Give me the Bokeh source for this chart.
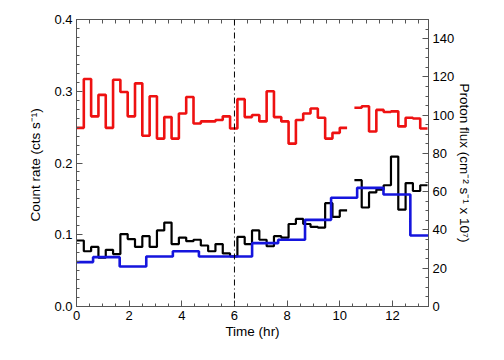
import math
from bokeh.plotting import figure
from bokeh.models import (Range1d, LinearAxis, FixedTicker, PrintfTickFormatter, Span)
from bokeh.embed import file_html
from bokeh.resources import INLINE

nan = float("nan")

# ---- data ----
bin_width_hr = 1000.0 / 3600.0  # 1000 s bins
count_rate_red = [0.249, 0.317, 0.265, 0.295, 0.249, 0.316, 0.299, 0.265, 0.311, 0.238,
                  0.293, 0.234, 0.264, 0.234, 0.269, 0.292, 0.255, 0.258, 0.258, 0.260,
                  0.265, 0.248, 0.289, 0.264, 0.267, 0.258, 0.300, 0.264, 0.258, 0.227,
                  0.260, 0.269, 0.276, 0.263, 0.234, 0.242, 0.249, nan, 0.277, 0.279,
                  0.244, 0.274, 0.271, 0.272, 0.251, 0.263, 0.262, 0.248]
count_rate_black = [0.092, 0.077, 0.083, 0.068, 0.079, 0.073, 0.101, 0.094, 0.083, 0.098,
                    0.083, 0.106, 0.117, 0.087, 0.096, 0.091, 0.093, 0.085, 0.077, 0.087,
                    0.074, 0.070, 0.097, 0.087, 0.106, 0.093, 0.084, 0.098, 0.096, 0.115,
                    0.122, 0.115, 0.111, 0.110, 0.144, 0.125, 0.134, nan, 0.176, 0.138,
                    0.159, 0.163, 0.169, 0.209, 0.135, 0.172, 0.161, 0.169]
flux_edges = [0.0, 0.63, 1.64, 2.65, 3.66, 4.65, 5.66, 6.67, 7.66, 8.68, 9.67, 10.66,
              11.66, 12.68, 13.37]
proton_flux = [23.2, 25.8, 20.9, 26.1, 28.9, 26.1, 26.1, 33.1, 34.9, 45.3, 56.8, 62.0,
               58.5, 37.1]
event_time = 6.0

x_ticks = [0, 2, 4, 6, 8, 10, 12]
y_ticks = [0.0, 0.1, 0.2, 0.3, 0.4]
flux_ticks = [0, 20, 40, 60, 80, 100, 120, 140]

x_end = 13.37
y_max = 0.4
flux_max = 150


def stairs(edges, vals):
    xs, ys = [], []
    for i, v in enumerate(vals):
        if isinstance(v, float) and math.isnan(v):
            xs.append(nan)
            ys.append(nan)
            continue
        xs += [edges[i], edges[i + 1]]
        ys += [v, v]
    return xs, ys


count_edges = [i * bin_width_hr for i in range(len(count_rate_red) + 1)]

FONT = "Liberation Sans"
AX = "#555555"

p = figure(frame_width=352, frame_height=287, output_backend="svg", toolbar_location=None,
           x_range=Range1d(0, x_end), y_range=Range1d(0, y_max),
           min_border_left=76, min_border_right=68, min_border_top=19, min_border_bottom=46,
           background_fill_color="white", border_fill_color="white")
p.grid.visible = False
p.outline_line_color = AX
p.extra_y_ranges = {"flux": Range1d(0, flux_max)}

xr, yr = stairs(count_edges, count_rate_red)
p.line(xr, yr, line_color="#ee1111", line_width=2.6)
xb, yb = stairs(count_edges, count_rate_black)
p.line(xb, yb, line_color="black", line_width=2.2)
xf, yf = stairs(flux_edges, proton_flux)
p.line(xf, yf, line_color="#1515dd", line_width=2.6, y_range_name="flux")

p.add_layout(Span(location=event_time, dimension="height", line_color="black",
                  line_width=1, line_dash="6 3 1 3"))


def style(ax):
    ax.axis_line_color = AX
    ax.major_tick_line_color = AX
    ax.minor_tick_line_color = AX
    ax.major_tick_in = 6
    ax.major_tick_out = 0
    ax.minor_tick_in = 3
    ax.minor_tick_out = 0
    ax.major_label_text_font = FONT
    ax.major_label_text_font_size = "13px"
    ax.major_label_text_color = "black"
    ax.axis_label_text_font = FONT
    ax.axis_label_text_font_size = "13.5px"
    ax.axis_label_text_font_style = "normal"
    ax.axis_label_text_color = "black"


x_minor = [i * 0.5 for i in range(27)]

# bottom x axis
xa = p.xaxis[0]
xa.ticker = FixedTicker(ticks=x_ticks, minor_ticks=x_minor)
style(xa)
xa.axis_label = "Time (hr)"
xa.major_label_standoff = 4
xa.axis_label_standoff = 1

# left y axis
ya = p.yaxis[0]
ya.ticker = FixedTicker(ticks=y_ticks, minor_ticks=[i * 0.0125 for i in range(33)])
ya.formatter = PrintfTickFormatter(format="%.1f")
style(ya)
ya.axis_label = "Count rate (cts  s\u207b\u00b9)"
ya.major_label_standoff = 4
ya.axis_label_standoff = 8

# right flux axis
ra = LinearAxis(y_range_name="flux")
ra.ticker = FixedTicker(ticks=flux_ticks, minor_ticks=[i * 5 for i in range(31)])
style(ra)
ra.axis_label = "Proton flux (cm\u207b\u00b2 s\u207b\u00b9 x 10\u2077)"
ra.major_label_standoff = 4
ra.axis_label_standoff = 0
p.add_layout(ra, "right")

# top axis (tick marks only, no labels)
ta = LinearAxis()
ta.ticker = FixedTicker(ticks=[], minor_ticks=x_minor)
style(ta)
ta.minor_tick_in = 4
p.add_layout(ta, "above")

open("out.html", "w").write(file_html(p, INLINE))
